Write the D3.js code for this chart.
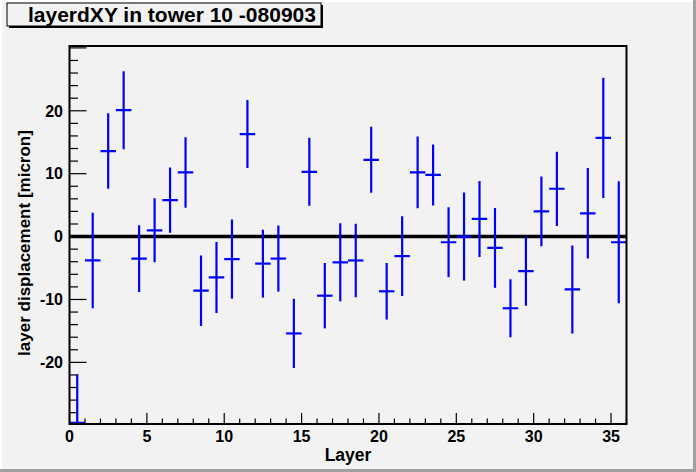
<!DOCTYPE html>
<html>
<head>
<meta charset="utf-8">
<script src="https://cdn.jsdelivr.net/npm/d3@7"></script>
<style>
  body { margin: 0; background: #f2f2f2; }
  svg { display: block; font-family: "Liberation Sans", Arial, sans-serif; font-weight: bold; }
</style>
</head>
<body>
<svg id="chart" width="696" height="472"></svg>
<script>
// layer numbers (bin centres) and the measured displacement per layer
var layers = [0.5, 1.5, 2.5, 3.5, 4.5, 5.5, 6.5, 7.5, 8.5, 9.5, 10.5, 11.5,
  12.5, 13.5, 14.5, 15.5, 16.5, 17.5, 18.5, 19.5, 20.5, 21.5, 22.5, 23.5,
  24.5, 25.5, 26.5, 27.5, 28.5, 29.5, 30.5, 31.5, 32.5, 33.5, 34.5, 35.5];
var displacement = [-29.6, -3.8, 13.6, 20.1, -3.5, 1.0, 5.8, 10.2, -8.6, -6.5, -3.6, 16.3,
  -4.3, -3.5, -15.4, 10.3, -9.4, -4.1, -3.8, 12.2, -8.7, -3.1, 10.2, 9.8,
  -0.9, 0.0, 2.8, -1.8, -11.4, -5.5, 4.0, 7.6, -8.4, 3.7, 15.7, -0.9];
var errors = [7.7, 7.6, 6.0, 6.2, 5.3, 5.1, 5.2, 5.6, 5.6, 5.65, 6.3, 5.4,
  5.4, 5.25, 5.5, 5.4, 5.2, 6.2, 5.85, 5.25, 4.5, 6.35, 5.7, 4.85,
  5.55, 7.0, 6.05, 6.35, 4.6, 5.5, 5.55, 5.9, 7.0, 7.2, 9.55, 9.7];

var xTicks = [0, 5, 10, 15, 20, 25, 30, 35];
var yTicks = [-20, -10, 0, 10, 20];

var titleText = "layerdXY in tower 10 -080903";
var xTitle = "Layer";
var yTitle = "layer displacement [micron]";

var svg = d3.select('#chart');
var W = +svg.attr('width'), H = +svg.attr('height');
var frame = { l: 69.5, r: 626.5, t: 46, b: 424 };

// canvas bevel
svg.append('rect').attr('width', W).attr('height', H).attr('fill', '#f2f2f2');
svg.append('path').attr('d', `M1,${H} V1 H${W}`).attr('fill', 'none')
  .attr('stroke', '#ffffff').attr('stroke-width', 2);
svg.append('path').attr('d', `M0,${H - 1.5} H${W - 1.5} V0`).attr('fill', 'none')
  .attr('stroke', '#a0a0a0').attr('stroke-width', 3);

var x = d3.scaleLinear().domain([0, 36]).range([frame.l, frame.r]);
var y = d3.scaleLinear().domain([-29.8, 30.3]).range([frame.b, frame.t]);

svg.append('clipPath').attr('id', 'clip').append('rect')
  .attr('x', frame.l).attr('y', frame.t)
  .attr('width', frame.r - frame.l).attr('height', frame.b - frame.t);

// ticks (pointing into the frame, ROOT style)
var xMinor = d3.range(0, 37, 1);
var yMinor = d3.range(-28, 31, 2);

svg.append('g').selectAll('line').data(xMinor).enter().append('line')
  .attr('x1', d => x(d)).attr('x2', d => x(d))
  .attr('y1', frame.b).attr('y2', d => frame.b - (d % 5 === 0 ? 11 : 5.5))
  .attr('stroke', '#000').attr('stroke-width', 1.2);

svg.append('g').selectAll('line').data(yMinor).enter().append('line')
  .attr('y1', d => y(d)).attr('y2', d => y(d))
  .attr('x1', frame.l).attr('x2', d => frame.l + (d % 10 === 0 ? 17 : 8.5))
  .attr('stroke', '#000').attr('stroke-width', 1.2);

// tick labels
svg.append('g').selectAll('text').data(xTicks).enter().append('text')
  .attr('x', d => x(d)).attr('y', 442)
  .attr('text-anchor', 'middle').attr('font-size', '16px')
  .text(d => d);

svg.append('g').selectAll('text').data(yTicks).enter().append('text')
  .attr('x', 63).attr('y', d => y(d)).attr('dy', '0.36em')
  .attr('text-anchor', 'end').attr('font-size', '16px')
  .text(d => d);

// zero line
svg.append('line')
  .attr('x1', frame.l).attr('x2', frame.r)
  .attr('y1', y(0)).attr('y2', y(0))
  .attr('stroke', '#000').attr('stroke-width', 3.5);

// error bars
var pts = layers.map((l, i) => ({ l: l, v: displacement[i], e: errors[i] }));
var g = svg.append('g').attr('clip-path', 'url(#clip)');
g.selectAll('.ev').data(pts).enter().append('line').attr('class', 'ev')
  .attr('x1', d => x(d.l)).attr('x2', d => x(d.l))
  .attr('y1', d => y(d.v - d.e)).attr('y2', d => y(d.v + d.e))
  .attr('stroke', '#0000ff').attr('stroke-width', 2.2);
g.selectAll('.eh').data(pts).enter().append('line').attr('class', 'eh')
  .attr('x1', d => x(d.l - 0.5)).attr('x2', d => x(d.l + 0.5))
  .attr('y1', d => y(d.v)).attr('y2', d => y(d.v))
  .attr('stroke', '#0000ff').attr('stroke-width', 2.2);

// frame
svg.append('rect')
  .attr('x', frame.l).attr('y', frame.t)
  .attr('width', frame.r - frame.l).attr('height', frame.b - frame.t)
  .attr('fill', 'none').attr('stroke', '#000').attr('stroke-width', 2);

// axis titles
svg.append('text').attr('x', (frame.l + frame.r) / 2).attr('y', 461)
  .attr('text-anchor', 'middle').attr('font-size', '17.5px').text(xTitle);
svg.append('text')
  .attr('transform', 'translate(30,243) rotate(-90)')
  .attr('text-anchor', 'middle').attr('font-size', '17px').text(yTitle);

// title box with shadow
svg.append('rect').attr('x', 9).attr('y', 5).attr('width', 314).attr('height', 23)
  .attr('fill', '#000');
svg.append('rect').attr('x', 7).attr('y', 3).attr('width', 314).attr('height', 23)
  .attr('fill', '#f2f2f2').attr('stroke', '#000').attr('stroke-width', 1);
svg.append('text').attr('x', 28).attr('y', 21.5)
  .attr('font-size', '21px').text(titleText);
</script>
</body>
</html>
